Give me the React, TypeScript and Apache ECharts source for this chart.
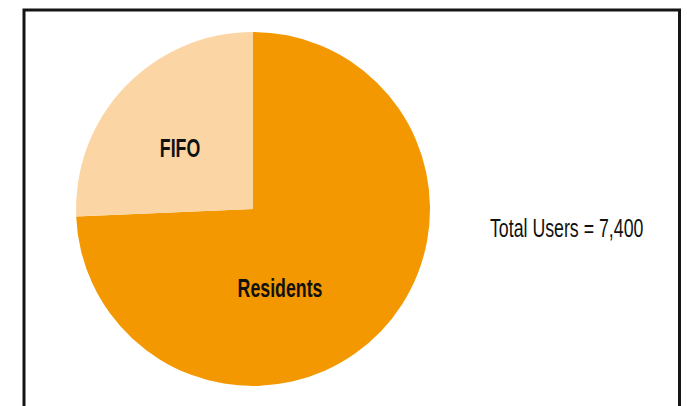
import React, { useEffect, useRef } from "react";
import * as echarts from "echarts";

const categories = ["Residents", "FIFO"];
const values = [5500, 1900];
const colors = ["#F39800", "#FCD5A5"];
const totalLabel = "Total Users = 7,400";

const FONT = "'Liberation Sans', Arial, sans-serif";
const SX = 0.71;

export default function App() {
  const ref = useRef<HTMLDivElement>(null);
  useEffect(() => {
    if (!ref.current) return;
    const chart = echarts.init(ref.current, undefined, { renderer: "svg" });
    chart.setOption({
      animation: false,
      backgroundColor: "#ffffff",
      series: [
        {
          type: "pie",
          center: [253, 209],
          radius: 177,
          startAngle: 90,
          clockwise: true,
          silent: true,
          label: { show: false },
          labelLine: { show: false },
          itemStyle: { borderWidth: 0 },
          emphasis: { disabled: true },
          data: categories.map((c, i) => ({
            name: c,
            value: values[i],
            itemStyle: { color: colors[i] },
          })),
        },
      ],
      graphic: [
        {
          type: "rect",
          z: 100,
          shape: { x: 24, y: 10, width: 655.5, height: 500 },
          style: { fill: "none", stroke: "#151515", lineWidth: 3 },
          silent: true,
        },
        {
          type: "text",
          z: 100,
          x: 180,
          y: 148,
          scaleX: SX,
          style: {
            text: categories[1],
            fontFamily: FONT,
            fontWeight: "bold",
            fontSize: 25,
            fill: "#111111",
            align: "center",
            verticalAlign: "middle",
          },
        },
        {
          type: "text",
          z: 100,
          x: 280,
          y: 288,
          scaleX: SX,
          style: {
            text: categories[0],
            fontFamily: FONT,
            fontWeight: "bold",
            fontSize: 25,
            fill: "#111111",
            align: "center",
            verticalAlign: "middle",
          },
        },
        {
          type: "text",
          z: 100,
          x: 490,
          y: 228,
          scaleX: SX,
          style: {
            text: totalLabel,
            fontFamily: FONT,
            fontSize: 25,
            fill: "#111111",
            align: "left",
            verticalAlign: "middle",
          },
        },
      ],
    });
    return () => chart.dispose();
  }, []);
  return (
    <div
      ref={ref}
      style={{ position: "absolute", left: 0, top: 0, width: 687, height: 406 }}
    />
  );
}
